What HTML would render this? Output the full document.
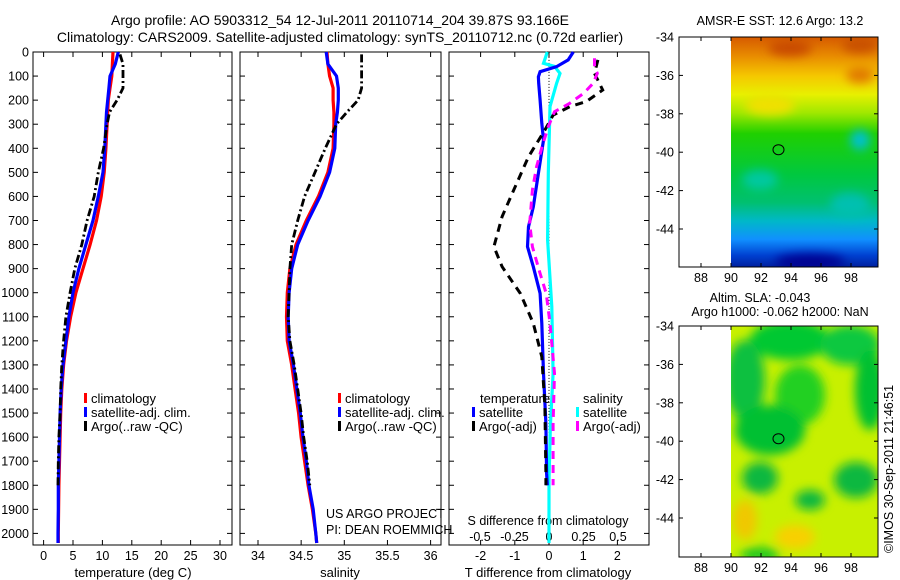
<!DOCTYPE html>
<html><head><meta charset="utf-8"><style>
html,body{margin:0;padding:0;background:#fff}
svg{display:block;font-family:"Liberation Sans",sans-serif}
text{fill:#000}
</style></head><body>
<svg id="fig" width="900" height="580" viewBox="0 0 900 580" xmlns="http://www.w3.org/2000/svg">
<defs>
<linearGradient id="sstg" x1="0" y1="0" x2="0" y2="1">
<stop offset="0" stop-color="#d65a00"/><stop offset="0.08" stop-color="#e88a00"/>
<stop offset="0.17" stop-color="#f5c800"/><stop offset="0.25" stop-color="#e8f000"/>
<stop offset="0.33" stop-color="#a0e800"/><stop offset="0.42" stop-color="#20d000"/>
<stop offset="0.6" stop-color="#00c840"/><stop offset="0.72" stop-color="#00c070"/>
<stop offset="0.8" stop-color="#00b8c8"/><stop offset="0.88" stop-color="#1090ff"/>
<stop offset="0.95" stop-color="#0040d0"/><stop offset="1" stop-color="#0020a0"/>
</linearGradient>
<filter id="blur"><feGaussianBlur stdDeviation="5"/></filter>
<clipPath id="m1c"><rect x="731" y="37" width="147" height="230"/></clipPath>
<clipPath id="m2c"><rect x="731" y="326" width="147" height="231"/></clipPath>
</defs>
<g id="titles" font-size="14" text-anchor="middle">
<text x="340" y="25">Argo profile: AO 5903312_54 12-Jul-2011 20110714_204 39.87S 93.166E</text>
<text x="340" y="42">Climatology: CARS2009. Satellite-adjusted climatology: synTS_20110712.nc (0.72d earlier)</text>
</g>
<g id="p1"></g>
<g id="p2"></g>
<g id="p3"></g>
<g id="maps"></g>
<g font-size="12.5">
<text x="326" y="518">US ARGO PROJECT</text>
<text x="326" y="534">PI: DEAN ROEMMICH</text>
</g>
<text x="893" y="553" font-size="12.5" transform="rotate(-90 893 553)">©IMOS 30-Sep-2011 21:46:51</text>
</svg>
<script>
const NS='http://www.w3.org/2000/svg';
// ---- data ----
const depths=[0,50,100,150,200,250,300,400,500,600,700,800,900,1000,1100,1200,1300,1400,1500,1600,1700,1800,1900,2000,2040];
const tClim=[11.8,11.7,11.6,11.3,11.0,10.9,10.8,10.6,10.3,9.8,9.0,7.9,6.7,5.5,4.6,3.9,3.4,3.1,2.9,2.8,2.7,2.6,2.55,2.5,2.5];
const tSat=[12.7,12.2,11.3,11.1,10.9,10.7,10.6,10.4,10.1,9.3,8.4,7.2,6.0,5.0,4.3,3.8,3.3,3.0,2.8,2.7,2.6,2.5,2.5,2.45,2.45];
const argoDepths=[10,50,100,150,200,250,300,400,500,600,700,800,900,1000,1100,1200,1300,1400,1500,1600,1700,1800];
const tArgo=[13.0,13.5,13.5,13.5,12.5,11.2,10.8,10.2,9.3,8.6,7.4,6.5,5.3,4.5,3.8,3.4,3.1,2.9,2.8,2.6,2.5,2.45];
const sClim=[34.80,34.81,34.83,34.87,34.87,34.88,34.88,34.87,34.81,34.70,34.56,34.44,34.37,34.34,34.33,34.34,34.39,34.43,34.47,34.50,34.54,34.58,34.63,34.67,34.68];
const sSat=[34.79,34.81,34.91,34.93,34.93,34.92,34.90,34.89,34.83,34.72,34.58,34.46,34.39,34.36,34.35,34.36,34.41,34.45,34.49,34.52,34.56,34.59,34.64,34.67,34.68];
const sArgo=[35.2,35.2,35.2,35.2,35.16,35.03,34.91,34.78,34.66,34.54,34.46,34.39,34.37,34.36,34.35,34.37,34.42,34.46,34.50,34.53,34.57,34.60];
const dDepths=[0,33,61,82,103,130,200,296,366,504,643,726,809,892,1003,1127,1335,1543,1750,1800];
const dTSat=[0.71,0.56,0.22,-0.26,-0.31,-0.3,-0.26,-0.21,-0.16,-0.31,-0.46,-0.6,-0.63,-0.46,-0.26,-0.21,-0.16,-0.09,-0.07,-0.05];
const cDepths=[0,30,47,60,89,130,227,504,781,1058,1335,1550,1778,2040];
const dSSat=[-0.012,-0.03,-0.04,0.04,0.08,0.055,0.007,-0.005,-0.01,0.02,0.03,0.01,0,0];
const aDepths=[33,89,158,206,227,262,324,435,573,684,809,892,1003,1127,1266,1474,1750,1800];
const dTArgo=[1.43,1.33,1.57,1.09,0.61,0.12,-0.12,-0.6,-1.03,-1.37,-1.61,-1.37,-0.84,-0.46,-0.21,-0.12,-0.09,-0.09];
const mDepths=[26,61,89,130,172,213,248,310,393,476,573,712,809,919,1003,1127,1335,1543,1765,1800];
const dSArgo=[0.33,0.33,0.35,0.32,0.25,0.15,0.04,-0.005,-0.05,-0.09,-0.12,-0.14,-0.12,-0.065,-0.02,0.007,0.04,0.03,0.03,0.03];
const depthTicks=[0,100,200,300,400,500,600,700,800,900,1000,1100,1200,1300,1400,1500,1600,1700,1800,1900,2000];
const tTicks=[0,5,10,15,20,25,30];
const sTicks=[34,34.5,35,35.5,36];
const dtTicks=[-2,-1,0,1,2];
const dsTicks=[-0.5,-0.25,0,0.25,0.5];
const dsTickLabels=['-0.5','-0.25','0','0.25','0.5'];
const latTicks=[-34,-36,-38,-40,-42,-44];
const lonTicks=[88,90,92,94,96,98];
const argoLon=93.166, argoLat=-39.87;
// ---- axes ----
const yD=d=>52+d*0.2407;
const plotTop=52,plotBot=545;
const xT=t=>43.6+t*5.88;
const xS=s=>258+(s-34)*86.3;
const xdT=v=>549+v*34.2;
const xdS=v=>549+v*138;
function el(tag,attrs,parent,txt){const e=document.createElementNS(NS,tag);for(const k in attrs)e.setAttribute(k,attrs[k]);if(txt!==undefined)e.textContent=txt;if(parent)parent.appendChild(e);return e;}
function line(p,xs,ys,color,w,dash,name){
  let d='';for(let i=0;i<xs.length;i++)d+=(i?'L':'M')+xs[i].toFixed(1)+','+ys[i].toFixed(1);
  const e=el('path',{d:d,fill:'none',stroke:color,'stroke-width':w},p);
  if(dash)e.setAttribute('stroke-dasharray',dash);
  
  
}
function frame(p,x0,x1,labelsLeft,name){
  const r=el('rect',{x:x0,y:plotTop,width:x1-x0,height:plotBot-plotTop,fill:'none',stroke:'#000','stroke-width':1},p);
  
  
  depthTicks.forEach(d=>{
    el('line',{x1:x0,x2:x0+5,y1:yD(d),y2:yD(d),stroke:'#000'},p);
    el('line',{x1:x1,x2:x1-5,y1:yD(d),y2:yD(d),stroke:'#000'},p);
    if(labelsLeft){const t=el('text',{x:x0-4,y:yD(d)+4.5,'font-size':12.5,'text-anchor':'end'},p,String(d));
      
      }
  });
}
function xticks(p,vals,labels,fx,yl,len){
  vals.forEach((v,i)=>{
    el('line',{x1:fx(v),x2:fx(v),y1:plotTop,y2:plotTop+len,stroke:'#000'},p);
    el('line',{x1:fx(v),x2:fx(v),y1:plotBot,y2:plotBot-len,stroke:'#000'},p);
    if(labels){const t=el('text',{x:fx(v),y:yl,'font-size':12.5,'text-anchor':'middle'},p,labels[i]);
      
      }
  });
}
function legend(p,x,y,items){
  items.forEach((it,i)=>{
    if(it[0])el('rect',{x:x,y:y+i*14-6,width:3,height:10,fill:it[0]},p);
    const t=el('text',{x:x+7,y:y+i*14+4,'font-size':13},p,it[1]);
    
    
  });
}
// panel 1
const p1=document.getElementById('p1');
frame(p1,33,232,true,'temperature-axes');
xticks(p1,tTicks,tTicks.map(String),xT,560,5);
line(p1,tClim.map(xT),depths.map(yD),'#ff0000',3.2,null,'climatology-temperature-line');
line(p1,tSat.map(xT),depths.map(yD),'#0000ff',3.2,null,'satellite-temperature-line');
line(p1,tArgo.map(xT),argoDepths.map(yD),'#000',2.8,'8 3 2 3','argo-temperature-line');
el('text',{x:133,y:577,'font-size':13,'text-anchor':'middle',},p1,'temperature (deg C)');
legend(p1,84,399,[['#ff0000','climatology'],['#0000ff','satellite-adj. clim.'],['#000','Argo(..raw -QC)']]);
// panel 2
const p2=document.getElementById('p2');
frame(p2,240,441,false,'salinity-axes');
xticks(p2,sTicks,sTicks.map(String),xS,560,5);
line(p2,sClim.map(xS),depths.map(yD),'#ff0000',3.2,null,'climatology-salinity-line');
line(p2,sSat.map(xS),depths.map(yD),'#0000ff',3.2,null,'satellite-salinity-line');
line(p2,sArgo.map(xS),argoDepths.map(yD),'#000',2.8,'8 3 2 3','argo-salinity-line');
el('text',{x:340,y:577,'font-size':13,'text-anchor':'middle',},p2,'salinity');
legend(p2,338,399,[['#ff0000','climatology'],['#0000ff','satellite-adj. clim.'],['#000','Argo(..raw -QC)']]);
// panel 3
const p3=document.getElementById('p3');
frame(p3,449,649,false,'difference-axes');
xticks(p3,dtTicks,dtTicks.map(String),xdT,560,5);
dsTicks.forEach((v,i)=>{const t=el('text',{x:xdS(v),y:541,'font-size':12.5,'text-anchor':'middle'},p3,dsTickLabels[i]);
  
  });
el('text',{x:548,y:525,'font-size':12.5,'text-anchor':'middle',},p3,'S difference from climatology');
el('text',{x:548,y:577,'font-size':13,'text-anchor':'middle',},p3,'T difference from climatology');
el('line',{x1:xdT(0),x2:xdT(0),y1:yD(20),y2:yD(2040),stroke:'#000','stroke-width':1,'stroke-dasharray':'1 2',},p3);
line(p3,dSSat.map(xdS),cDepths.map(yD),'#00ffff',3.2,null,'satellite-salinity-diff-line');
line(p3,dTSat.map(xdT),dDepths.map(yD),'#0000ff',3.2,null,'satellite-temperature-diff-line');
line(p3,dTArgo.map(xdT),aDepths.map(yD),'#000',3,'8 6','argo-temperature-diff-line');
line(p3,dSArgo.map(xdS),mDepths.map(yD),'#ff00ff',3,'8 6','argo-salinity-diff-line');
el('text',{x:480,y:403,'font-size':13,},p3,'temperature');
el('text',{x:583,y:403,'font-size':13,},p3,'salinity');
legend(p3,472,413,[['#0000ff','satellite'],['#000','Argo(-adj)']]);
legend(p3,576,413,[['#00ffff','satellite'],['#ff00ff','Argo(-adj)']]);
// maps
const maps=document.getElementById('maps');
function mapFrame(y0,y1){
  const xL=lon=>731+(lon-90)*15;
  const yL=lat=>y0+(-34-lat)*19.2;
  el('rect',{x:679,y:y0,width:199,height:y1-y0,fill:'none',stroke:'#000'},maps);
  latTicks.forEach(l=>{el('line',{x1:679,x2:683,y1:yL(l),y2:yL(l),stroke:'#000'},maps);
    el('line',{x1:878,x2:874,y1:yL(l),y2:yL(l),stroke:'#000'},maps);
    const t=el('text',{x:674,y:yL(l)+4.5,'font-size':12.5,'text-anchor':'end'},maps,String(l));
    
    });
  lonTicks.forEach(l=>{el('line',{x1:xL(l),x2:xL(l),y1:y1,y2:y1-4,stroke:'#000'},maps);
    el('line',{x1:xL(l),x2:xL(l),y1:y0,y2:y0+4,stroke:'#000'},maps);
    const t=el('text',{x:xL(l),y:y1+15,'font-size':12.5,'text-anchor':'middle'},maps,String(l));
    
    });
  const c=el('ellipse',{cx:xL(argoLon),cy:yL(argoLat),rx:5.5,ry:5,fill:'none',stroke:'#000','stroke-width':1},maps);
  
  
}
// SST map
const g1=el('g',{'clip-path':'url(#m1c)',},maps);
el('rect',{x:731,y:37,width:147,height:230,fill:'url(#sstg)'},g1);
const bl1=el('g',{filter:'url(#blur)'},g1);
[[790,48,22,8,'#c84800'],[860,45,18,8,'#c85000'],[860,75,14,8,'#e07800'],[770,105,25,10,'#f0e000'],[860,140,10,10,'#00c0d0'],[760,180,18,10,'#00c8a0'],[850,205,20,12,'#00c0b0'],[810,262,35,8,'#000090']].forEach(b=>el('ellipse',{cx:b[0],cy:b[1],rx:b[2],ry:b[3],fill:b[4]},bl1));
mapFrame(37,267);
el('text',{x:780,y:25,'font-size':12.5,'text-anchor':'middle',},maps,'AMSR-E SST: 12.6 Argo: 13.2');
// SLA map
const g2=el('g',{'clip-path':'url(#m2c)',},maps);
el('rect',{x:731,y:326,width:147,height:231,fill:'#c8f000'},g2);
const bl2=el('g',{filter:'url(#blur)'},g2);
[[790,340,40,20,'#00c830'],[850,345,30,20,'#10c840'],[745,380,20,40,'#10c040'],[800,395,25,30,'#20d020'],[870,390,15,40,'#00c030'],[770,430,35,25,'#00c030'],[760,478,18,16,'#10b840'],[856,480,22,18,'#10b840'],[810,500,15,10,'#10b840'],[745,520,12,20,'#f0c800'],[795,537,20,12,'#f8d000'],[760,555,20,8,'#20c820']].forEach(b=>el('ellipse',{cx:b[0],cy:b[1],rx:b[2],ry:b[3],fill:b[4]},bl2));
mapFrame(326,557);
el('text',{x:760,y:302,'font-size':12.5,'text-anchor':'middle',},maps,'Altim. SLA: -0.043');
el('text',{x:780,y:316,'font-size':12.5,'text-anchor':'middle',},maps,'Argo h1000: -0.062 h2000: NaN');
</script>
</body></html>
